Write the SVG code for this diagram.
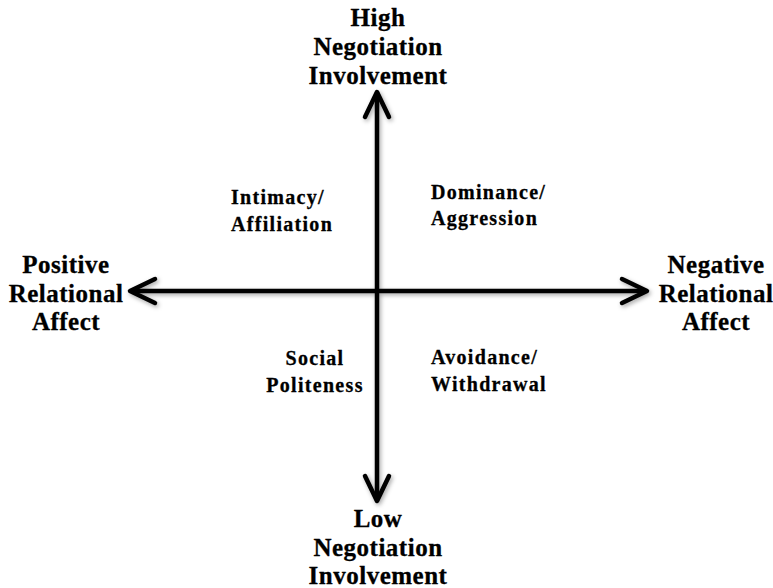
<svg xmlns="http://www.w3.org/2000/svg" width="773" height="588" viewBox="0 0 773 588">
  <defs>
    <filter id="shadow" x="-20%" y="-20%" width="140%" height="140%">
      <feDropShadow dx="1.5" dy="2" stdDeviation="2" flood-color="#000" flood-opacity="0.35"/>
    </filter>
  </defs>
  <style>
    .axis { stroke: #000; stroke-width: 4.5; fill: none; stroke-linecap: round; stroke-linejoin: round; }
    .pole { font-family: "Liberation Serif", "Times New Roman", serif; font-weight: bold; font-size: 25px; letter-spacing: 0.5px; fill: #000; stroke: #000; stroke-width: 0.3; text-anchor: middle; }
    .quad { font-family: "Liberation Serif", "Times New Roman", serif; font-weight: bold; font-size: 20px; letter-spacing: 1.3px; fill: #000; stroke: #000; stroke-width: 0.3; }
  </style>
  <rect width="773" height="588" fill="#fff"/>

  <!-- axes with open arrowheads -->
  <g id="connectors" filter="url(#shadow)">
    <path class="axis" d="M377,93 V500"/>
    <path class="axis" d="M365,117 L377,92 L389,117"/>
    <path class="axis" d="M365,476 L377,501 L389,476"/>
    <path class="axis" d="M132,291 H645"/>
    <path class="axis" d="M155,279 L130,291 L155,303"/>
    <path class="axis" d="M622,279 L647,291 L622,303"/>
  </g>

  <g id="high-involvement">
    <text class="pole" x="378" y="26">High</text>
    <text class="pole" x="378" y="55">Negotiation</text>
    <text class="pole" x="378" y="84">Involvement</text>
  </g>
  <g id="low-involvement">
    <text class="pole" x="378" y="527">Low</text>
    <text class="pole" x="378" y="556">Negotiation</text>
    <text class="pole" x="378" y="584">Involvement</text>
  </g>
  <g id="positive-affect">
    <text class="pole" x="66" y="273">Positive</text>
    <text class="pole" x="66" y="302">Relational</text>
    <text class="pole" x="66" y="330">Affect</text>
  </g>
  <g id="negative-affect">
    <text class="pole" x="716" y="273">Negative</text>
    <text class="pole" x="716" y="302">Relational</text>
    <text class="pole" x="716" y="330">Affect</text>
  </g>

  <g id="intimacy-affiliation">
    <text class="quad" x="231" y="204">Intimacy/</text>
    <text class="quad" x="231" y="231">Affiliation</text>
  </g>
  <g id="dominance-aggression">
    <text class="quad" x="431" y="199">Dominance/</text>
    <text class="quad" x="431" y="225">Aggression</text>
  </g>
  <g id="social-politeness">
    <text class="quad" x="315" y="365" text-anchor="middle">Social</text>
    <text class="quad" x="315" y="392" text-anchor="middle">Politeness</text>
  </g>
  <g id="avoidance-withdrawal">
    <text class="quad" x="431" y="364">Avoidance/</text>
    <text class="quad" x="431" y="391">Withdrawal</text>
  </g>
</svg>
